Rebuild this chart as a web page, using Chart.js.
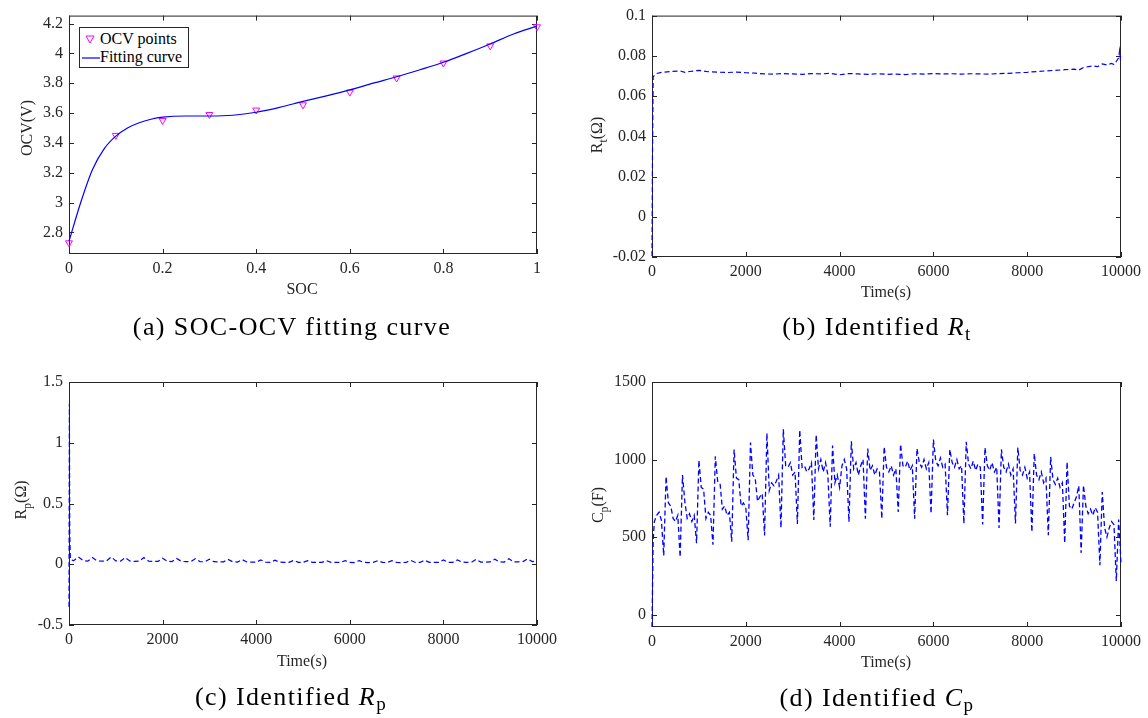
<!DOCTYPE html>
<html>
<head>
<meta charset="utf-8">
<script src="https://cdn.jsdelivr.net/npm/chart.js@4.4.1/dist/chart.umd.min.js"></script>
<style>
  body { margin: 0; background: #fff; }
  #fig { position: relative; width: 1148px; height: 718px; overflow: hidden; font-family: "Liberation Serif", "Times New Roman", serif; color: #262626; }
  #fig canvas { position: absolute; }
  .ytitle { position: absolute; font-size: 16px; white-space: nowrap; line-height: 1; transform: translate(-50%, -50%) rotate(-90deg); }
  .xtitle { position: absolute; font-size: 16px; white-space: nowrap; line-height: 1; transform: translate(-50%, -50%); }
  .caption { position: absolute; font-size: 26px; letter-spacing: 1.4px; white-space: nowrap; line-height: 1; color: #000; transform: translate(-50%, -50%); }
  .sub { font-size: 12px; position: relative; top: 5px; }
  .caption .sub { font-size: 19px; top: 5px; font-style: normal; }
  #legend { position: absolute; left: 79px; top: 27px; width: 110px; height: 41px; box-sizing: border-box; border: 1px solid #262626; background: #fff; font-size: 16px; color: #000; }
  #legend .row { position: absolute; left: 1px; height: 18px; line-height: 18px; white-space: nowrap; }
  #legend svg { vertical-align: middle; }
</style>
</head>
<body>
<div id="fig">
  <canvas id="chartA" width="574" height="300" style="left:0;top:0"></canvas>
  <canvas id="chartB" width="574" height="300" style="left:574px;top:0"></canvas>
  <canvas id="chartC" width="574" height="300" style="left:0;top:360px"></canvas>
  <canvas id="chartD" width="574" height="300" style="left:574px;top:360px"></canvas>

  <div id="legend">
    <div class="row" style="top:2px"><svg width="19" height="12"><polygon points="5,2 13,2 9,9" fill="none" stroke="#ff00ff" stroke-width="1"/></svg><span>OCV points</span></div>
    <div class="row" style="top:20px"><svg width="19" height="12"><line x1="1" y1="6" x2="19" y2="6" stroke="#0000ff" stroke-width="1.2"/></svg><span>Fitting curve</span></div>
  </div>

  <div class="ytitle" style="left:27px;top:128px">OCV(V)</div>
  <div class="xtitle" style="left:302px;top:289px">SOC</div>
  <div class="caption" style="left:292px;top:327px">(a) SOC-OCV fitting curve</div>

  <div class="ytitle" style="left:597px;top:135px">R<span class="sub">t</span>(Ω)</div>
  <div class="xtitle" style="left:886px;top:292px">Time(s)</div>
  <div class="caption" style="left:877px;top:327px">(b) Identified <i>R</i><span class="sub">t</span></div>

  <div class="ytitle" style="left:21px;top:500px">R<span class="sub">p</span>(Ω)</div>
  <div class="xtitle" style="left:302px;top:661px">Time(s)</div>
  <div class="caption" style="left:291px;top:697px">(c) Identified <i>R</i><span class="sub">p</span></div>

  <div class="ytitle" style="left:598px;top:505px">C<span class="sub">p</span>(F)</div>
  <div class="xtitle" style="left:886px;top:662px">Time(s)</div>
  <div class="caption" style="left:877px;top:698px">(d) Identified <i>C</i><span class="sub">p</span></div>
</div>

<script>
// ---- (a) SOC-OCV ----
const socPoints = [0, 0.1, 0.2, 0.3, 0.4, 0.5, 0.6, 0.7, 0.8, 0.9, 1];
const ocvPoints = [2.73, 3.45, 3.55, 3.59, 3.62, 3.655, 3.74, 3.835, 3.935, 4.05, 4.178];
const socCurve = [0, 0.025, 0.05, 0.075, 0.1, 0.125, 0.15, 0.175, 0.2, 0.25, 0.3, 0.35, 0.4,
  0.45, 0.5, 0.55, 0.6, 0.65, 0.7, 0.75, 0.8, 0.85, 0.9, 0.95, 1];
const ocvCurve = [2.74, 3.0, 3.22, 3.36, 3.445, 3.5, 3.535, 3.558, 3.572, 3.58, 3.58, 3.585, 3.605,
  3.638, 3.678, 3.715, 3.755, 3.8, 3.843, 3.89, 3.94, 4.0, 4.063, 4.13, 4.182];
const socTicks = [0, 0.2, 0.4, 0.6, 0.8, 1];
const ocvTicks = [2.8, 3, 3.2, 3.4, 3.6, 3.8, 4, 4.2];

// ---- shared time axis ticks ----
const timeTicks = [0, 2000, 4000, 6000, 8000, 10000];

// ---- (b) Rt ----
const rtTime = [0, 10, 25, 60, 100, 200, 400, 600, 700, 800, 1000, 1200, 1400, 1600, 1800,
  2000, 2200, 2400, 2600, 2800, 3000, 3200, 3400, 3600, 3800, 4000, 4200, 4400, 4600, 4800,
  5000, 5200, 5400, 5600, 5800, 6000, 6200, 6400, 6600, 6800, 7000, 7200, 7400, 7600, 7800,
  8000, 8200, 8400, 8600, 8800, 9000, 9100, 9200, 9400, 9500, 9600, 9700, 9800, 9850, 9900,
  9950, 9970, 9985, 10000];
const rtValue = [-0.0195, 0.03, 0.0695, 0.0705, 0.0712, 0.0718, 0.0722, 0.0725, 0.0718, 0.0722,
  0.0728, 0.0721, 0.0719, 0.0717, 0.0719,
  0.0716, 0.0714, 0.071, 0.0709, 0.0712, 0.071, 0.0708, 0.0712, 0.071, 0.0713, 0.0706, 0.0712,
  0.071, 0.0708, 0.0711,
  0.0708, 0.0709, 0.0707, 0.0711, 0.0709, 0.0712, 0.071, 0.0711, 0.0709, 0.0711, 0.071, 0.0709,
  0.0712, 0.0713, 0.0716,
  0.0718, 0.0722, 0.0725, 0.0728, 0.0731, 0.0734, 0.0729, 0.0742, 0.075, 0.0746, 0.076, 0.0755,
  0.0762, 0.0757, 0.0772,
  0.079, 0.0825, 0.079, 0.0805];
const rtTicks = [-0.02, 0, 0.02, 0.04, 0.06, 0.08, 0.1];

// ---- (c) Rp ----
const rpTime = [0, 8, 16, 30, 50,
  100, 200, 300, 400, 500, 600, 700, 800, 900, 1000,
  1100, 1200, 1300, 1400, 1500, 1600, 1700, 1800, 1900, 2000,
  2100, 2200, 2300, 2400, 2500, 2600, 2700, 2800, 2900, 3000,
  3100, 3200, 3300, 3400, 3500, 3600, 3700, 3800, 3900, 4000,
  4100, 4200, 4300, 4400, 4500, 4600, 4700, 4800, 4900, 5000,
  5100, 5200, 5300, 5400, 5500, 5600, 5700, 5800, 5900, 6000,
  6100, 6200, 6300, 6400, 6500, 6600, 6700, 6800, 6900, 7000,
  7100, 7200, 7300, 7400, 7500, 7600, 7700, 7800, 7900, 8000,
  8100, 8200, 8300, 8400, 8500, 8600, 8700, 8800, 8900, 9000,
  9100, 9200, 9300, 9400, 9500, 9600, 9700, 9800, 9900, 10000];
const rpValue = [-0.35, 1.32, 0.25, 0.04, 0.035,
  0.03, 0.06, 0.03, 0.025, 0.055, 0.028, 0.025, 0.027, 0.06, 0.028,
  0.025, 0.055, 0.027, 0.024, 0.026, 0.055, 0.026, 0.024, 0.023, 0.05,
  0.025, 0.022, 0.048, 0.024, 0.021, 0.022, 0.045, 0.022, 0.02, 0.042,
  0.021, 0.019, 0.02, 0.04, 0.02, 0.018, 0.038, 0.019, 0.018, 0.017,
  0.035, 0.018, 0.016, 0.033, 0.017, 0.016, 0.016, 0.032, 0.016, 0.015,
  0.03, 0.016, 0.015, 0.015, 0.03, 0.016, 0.015, 0.015, 0.03, 0.015,
  0.014, 0.03, 0.015, 0.014, 0.015, 0.03, 0.015, 0.014, 0.03, 0.015,
  0.014, 0.015, 0.032, 0.015, 0.015, 0.033, 0.016, 0.015, 0.016, 0.035,
  0.016, 0.016, 0.036, 0.017, 0.016, 0.017, 0.04, 0.018, 0.017, 0.019,
  0.042, 0.019, 0.018, 0.045, 0.02, 0.02, 0.022, 0.045, 0.022, 0.025];
const rpTicks = [-0.5, 0, 0.5, 1, 1.5];

// ---- (d) Cp ----
const cpTime = [0, 10, 25,
  50, 100, 150, 200, 250, 300, 350, 400, 450, 500,
  550, 600, 650, 700, 750, 800, 850, 900, 950, 1000,
  1050, 1100, 1150, 1200, 1250, 1300, 1350, 1400, 1450, 1500,
  1550, 1600, 1650, 1700, 1750, 1800, 1850, 1900, 1950, 2000,
  2050, 2100, 2150, 2200, 2250, 2300, 2350, 2400, 2450, 2500,
  2550, 2600, 2650, 2700, 2750, 2800, 2850, 2900, 2950, 3000,
  3050, 3100, 3150, 3200, 3250, 3300, 3350, 3400, 3450, 3500,
  3550, 3600, 3650, 3700, 3750, 3800, 3850, 3900, 3950, 4000,
  4050, 4100, 4150, 4200, 4250, 4300, 4350, 4400, 4450, 4500,
  4550, 4600, 4650, 4700, 4750, 4800, 4850, 4900, 4950, 5000,
  5050, 5100, 5150, 5200, 5250, 5300, 5350, 5400, 5450, 5500,
  5550, 5600, 5650, 5700, 5750, 5800, 5850, 5900, 5950, 6000,
  6050, 6100, 6150, 6200, 6250, 6300, 6350, 6400, 6450, 6500,
  6550, 6600, 6650, 6700, 6750, 6800, 6850, 6900, 6950, 7000,
  7050, 7100, 7150, 7200, 7250, 7300, 7350, 7400, 7450, 7500,
  7550, 7600, 7650, 7700, 7750, 7800, 7850, 7900, 7950, 8000,
  8050, 8100, 8150, 8200, 8250, 8300, 8350, 8400, 8450, 8500,
  8550, 8600, 8650, 8700, 8750, 8800, 8850, 8900, 8950, 9000,
  9050, 9100, 9150, 9200, 9250, 9300, 9350, 9400, 9450, 9500,
  9550, 9600, 9650, 9700, 9750, 9800, 9850, 9900, 9950, 10000];
const cpValue = [-80, 150, 480,
  600, 640, 660, 610, 380, 890, 720, 700, 620, 600,
  640, 370, 900, 730, 620, 650, 600, 640, 460, 995,
  820, 810, 620, 660, 640, 450, 1020, 860, 850, 680,
  700, 640, 660, 470, 1065, 880, 870, 700, 720, 690,
  480, 1110, 900, 880, 730, 760, 780, 510, 1170, 800,
  850, 830, 860, 900, 560, 1195, 960, 950, 980, 900,
  920, 585, 1190, 950, 960, 920, 940, 980, 610, 1160,
  940, 1000, 920, 980, 900, 566, 1090, 850, 900, 820,
  960, 1000, 940, 598, 1118, 940, 980, 900, 960, 1000,
  619, 1071, 930, 960, 900, 940, 920, 619, 1082, 950,
  920, 960, 900, 940, 662, 1099, 960, 950, 990, 930,
  960, 619, 1071, 980, 950, 1000, 940, 980, 652, 1129,
  990, 960, 1010, 950, 970, 641, 1065, 980, 950, 1000,
  940, 960, 587, 1114, 970, 940, 990, 930, 970, 950,
  581, 1077, 960, 930, 980, 920, 950, 559, 1065, 950,
  920, 970, 900, 940, 587, 1077, 930, 900, 950, 880,
  920, 533, 1039, 900, 870, 920, 850, 880, 512, 1017,
  870, 840, 880, 820, 850, 462, 985, 700, 680, 720,
  760, 830, 398, 834, 700, 650, 680, 640, 690, 660,
  318, 791, 560, 500, 560, 600, 580, 217, 613, 330];
const cpTicks = [0, 500, 1000, 1500];

// ---- styling helpers ----
const axisColor = "#262626";
const tickFont = { family: "Liberation Serif", size: 16 };

// Draws the MATLAB style box with inward ticks on all four sides.
const boxTicks = {
  id: "boxTicks",
  beforeDatasetsDraw(chart) {
    const { ctx, chartArea: a, scales } = chart;
    ctx.save();
    ctx.strokeStyle = axisColor;
    ctx.lineWidth = 1;
    ctx.strokeRect(a.left + 0.5, a.top + 0.5, a.right - a.left - 1, a.bottom - a.top - 1);
    const len = 5;
    ctx.beginPath();
    scales.x.ticks.forEach(t => {
      const px = Math.round(scales.x.getPixelForValue(t.value)) + 0.5;
      ctx.moveTo(px, a.bottom);
      ctx.lineTo(px, a.bottom - len);
      ctx.moveTo(px, a.top);
      ctx.lineTo(px, a.top + len);
    });
    scales.y.ticks.forEach(t => {
      const py = Math.round(scales.y.getPixelForValue(t.value)) + 0.5;
      ctx.moveTo(a.left, py);
      ctx.lineTo(a.left + len, py);
      ctx.moveTo(a.right, py);
      ctx.lineTo(a.right - len, py);
    });
    ctx.stroke();
    ctx.restore();
  }
};

function toXY(xs, ys) {
  return xs.map((x, i) => ({ x: x, y: ys[i] }));
}

function axis(min, max, tickValues, fitSize, isX) {
  return {
    type: "linear",
    min: min,
    max: max,
    grid: { display: false, drawTicks: false },
    border: { display: false },
    ticks: {
      color: axisColor,
      font: tickFont,
      padding: isX ? 5 : 6,
      maxRotation: 0,
      autoSkip: false,
      callback: v => String(v)
    },
    afterBuildTicks: s => { s.ticks = tickValues.map(v => ({ value: v })); },
    afterFit: s => {
      if (isX) s.height = fitSize;
      else s.width = fitSize;
    }
  };
}

function makeChart(id, datasets, scales, pad) {
  return new Chart(document.getElementById(id), {
    type: "line",
    data: { datasets: datasets },
    options: {
      responsive: false,
      animation: false,
      devicePixelRatio: 1,
      layout: { padding: pad },
      plugins: { legend: { display: false }, tooltip: { enabled: false } },
      scales: scales
    },
    plugins: [boxTicks]
  });
}

// (a)
makeChart("chartA", [
  {
    data: toXY(socCurve, ocvCurve),
    borderColor: "#0000ff",
    borderWidth: 1.2,
    pointRadius: 0,
    cubicInterpolationMode: "monotone",
    clip: false
  },
  {
    data: toXY(socPoints, ocvPoints),
    showLine: false,
    pointStyle: "triangle",
    rotation: 180,
    pointRadius: 4,
    pointBorderWidth: 1,
    pointBorderColor: "#ff00ff",
    pointBackgroundColor: "rgba(0,0,0,0)",
    clip: false
  }
], {
  x: axis(0, 1, socTicks, 46, true),
  y: axis(2.655, 4.253, ocvTicks, 69, false)
}, { left: 0, top: 12, right: 37, bottom: 0 });

// (b)
makeChart("chartB", [
  {
    data: toXY(rtTime, rtValue),
    borderColor: "#0000ff",
    borderWidth: 1.2,
    borderDash: [5, 3],
    pointRadius: 0,
    clip: false
  }
], {
  x: axis(0, 10000, timeTicks, 43, true),
  y: axis(-0.02, 0.1, rtTicks, 78, false)
}, { left: 0, top: 12, right: 27, bottom: 0 });

// (c)
makeChart("chartC", [
  {
    data: toXY(rpTime, rpValue),
    borderColor: "#0000ff",
    borderWidth: 1.2,
    borderDash: [5, 3],
    pointRadius: 0,
    clip: false
  }
], {
  x: axis(0, 10000, timeTicks, 35, true),
  y: axis(-0.5, 1.5, rpTicks, 69, false)
}, { left: 0, top: 22, right: 37, bottom: 0 });

// (d)
makeChart("chartD", [
  {
    data: toXY(cpTime, cpValue),
    borderColor: "#0000ff",
    borderWidth: 1.3,
    borderDash: [5, 3],
    pointRadius: 0,
    clip: false
  }
], {
  x: axis(0, 10000, timeTicks, 33, true),
  y: axis(-80, 1500, cpTicks, 78, false)
}, { left: 0, top: 22, right: 27, bottom: 0 });
</script>
</body>
</html>
